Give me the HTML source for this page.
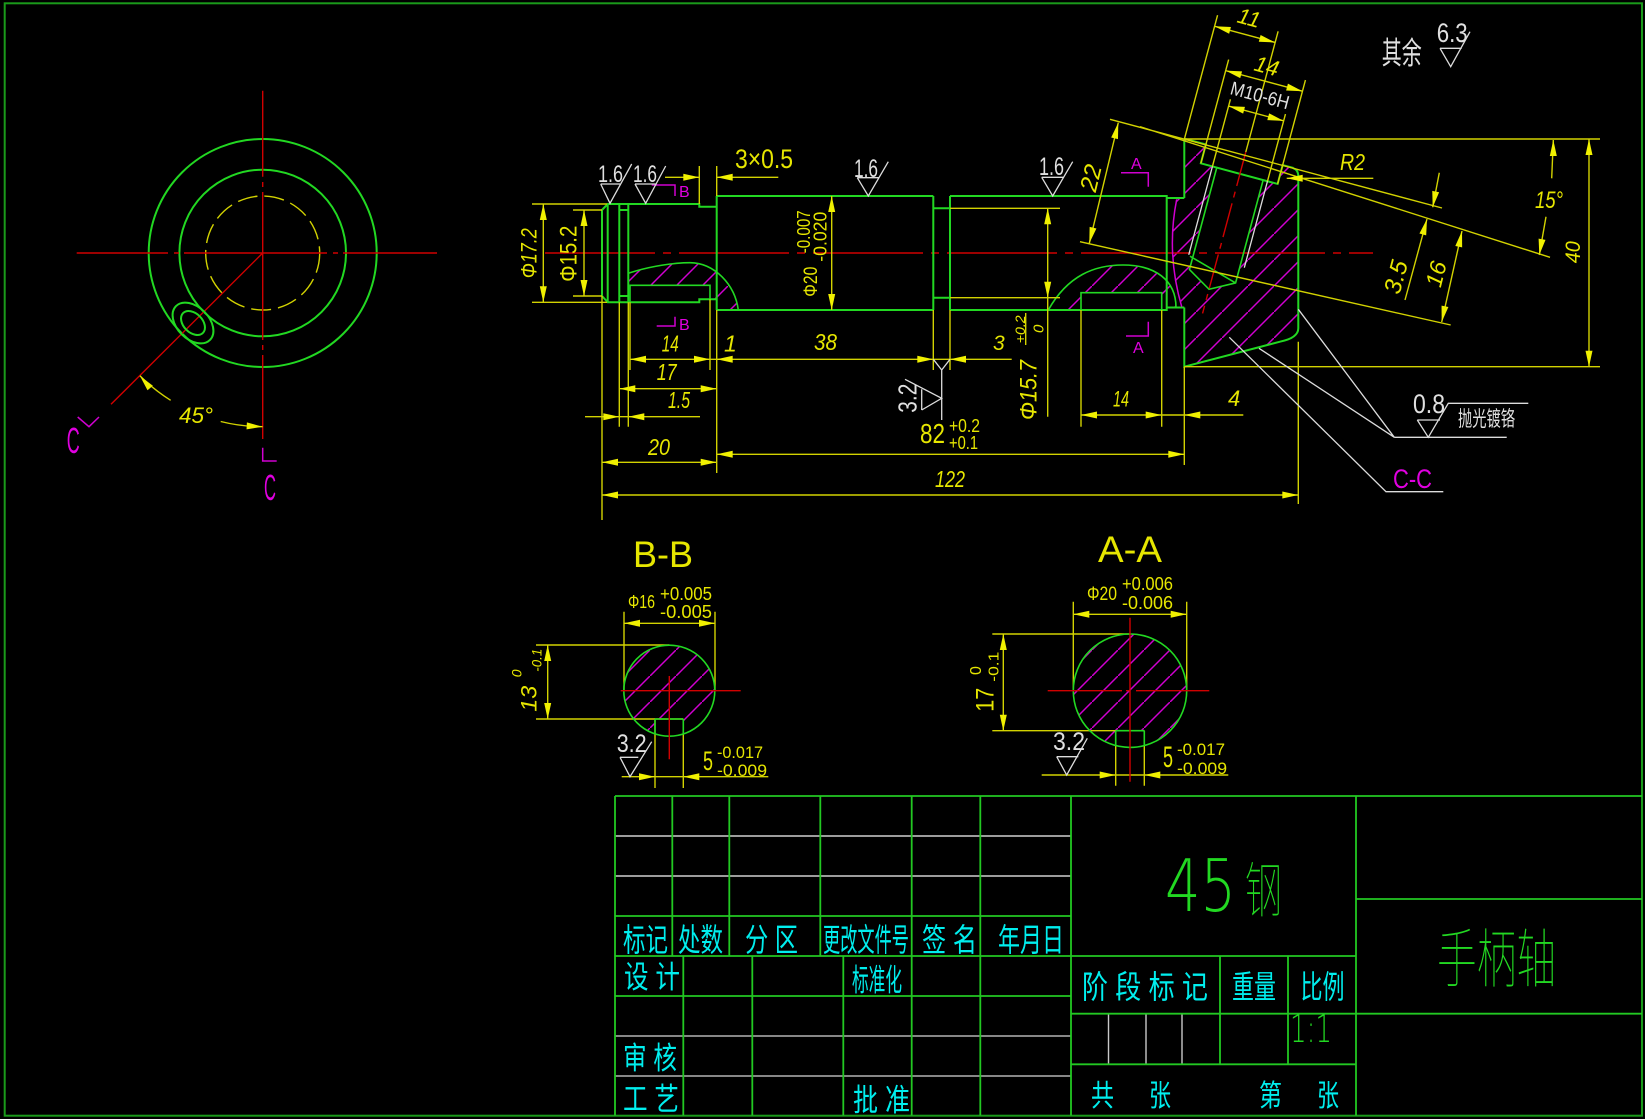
<!DOCTYPE html>
<html><head><meta charset="utf-8"><style>
html,body{margin:0;padding:0;background:#000}
svg{display:block}
.g{stroke:#22d822;stroke-width:2;fill:none}
.gt{stroke:#22d822;stroke-width:1.6;fill:none}
.y{stroke:#d2d200;stroke-width:1.4;fill:none}
.r{stroke:#d00000;stroke-width:1.4;fill:none}
.m{stroke:#d000d0;stroke-width:1.5;fill:none}
.w{stroke:#dcdcdc;stroke-width:1.3;fill:none}
text{font-family:'Liberation Sans','Noto Sans CJK SC',sans-serif}
.ty{fill:#e6e600}.tw{fill:#e0e0e0}.tm{fill:#e000e0}.tc{fill:#00eeee}.tg{fill:#22d822}
.i{font-style:italic}
.thin{font-family:'DejaVu Sans','Noto Sans CJK SC',sans-serif;font-weight:200}
.thincjk{font-family:'Noto Sans CJK SC',sans-serif;font-weight:100}
</style></head><body>
<svg xmlns="http://www.w3.org/2000/svg" width="1645" height="1119" viewBox="0 0 1645 1119">
<defs>
<path id="ah" d="M0,0 L-16,-3.5 L-16,3.5 Z" fill="#f0f000"/>
<pattern id="h" patternUnits="userSpaceOnUse" width="26" height="26"><path d="M-1,27 L27,-1" stroke="#d000d0" stroke-width="1.5"/></pattern>
</defs>
<rect width="1645" height="1119" fill="#000"/>
<rect x="4.7" y="3.3" width="1637.3" height="1112.4" fill="none" stroke="#1a9a1a" stroke-width="2"/>

<!-- LEFT END VIEW -->
<circle cx="262.7" cy="253" r="114" class="g"/>
<circle cx="262.7" cy="253" r="83.3" class="g"/>
<circle cx="262.7" cy="253" r="57" class="y" stroke-dasharray="20 7"/>
<path class="r" d="M76.7,253H168 M174,253H179 M184,253H327 M333,253H338 M343,253H437 M262.7,90.7V176.7 M262.7,182V187 M262.7,192V340 M262.7,345V350 M262.7,355V439 M262.7,253L111,404.3"/>
<g transform="translate(193,323) rotate(45)"><ellipse rx="24" ry="16" class="g"/><ellipse rx="14" ry="9.5" class="g"/></g>
<path class="y" d="M139.9,375.8 A173.7,173.7 0 0 0 170.65,400.3 M220.7,421.5 A173.7,173.7 0 0 0 262.7,426.7"/>
<use href="#ah" transform="translate(262.7,426.7) rotate(3)"/>
<use href="#ah" transform="translate(139.9,375.8) rotate(-130)"/>
<text class="ty i" x="179" y="423" font-size="22" textLength="34" lengthAdjust="spacingAndGlyphs">45°</text>
<path class="m" d="M77.7,417 L89,426.7 L99,417 M262.7,447.7 V461 H276.7"/>
<text class="tm" x="66.7" y="453" font-size="36" textLength="13" lengthAdjust="spacingAndGlyphs">C</text>
<text class="tm" x="264" y="500" font-size="36" textLength="12" lengthAdjust="spacingAndGlyphs">C</text>

<!-- HATCH REGIONS MAIN -->
<path fill="url(#h)" d="M1176.7,199 Q1166,253 1181.7,307.5 L1184.3,307.5 L1184.3,366.7 L1280,341.7 Q1298.3,338 1298.3,328.3 V176.7 Q1298.3,169.5 1293.3,168.3 L1184.3,139 V199 Z"/>
<g transform="translate(1245,155) rotate(15)"><path fill="#000" d="M-40.5,0 V19.5 H-24 V125 L0,139 L24,126 V19.5 H39 V0 Z"/></g>
<path fill="url(#h)" d="M628.3,273.3 C650,266 675,262.7 690,262.7 C715,263 735,285 738.3,310 L716.7,310 L716.7,299.3 L710,299.3 L710,285.3 L628.3,285.3 Z"/>
<path fill="url(#h)" d="M1048.3,310 C1068,275 1095,265 1123,265 C1155,265 1176,280 1176,307.5 L1166.7,307.5 L1166.7,310 L1161.7,310 L1161.7,292.7 L1081,292.7 L1081,310 Z"/>

<!-- MAIN CENTERLINE -->
<path class="r" d="M545,253H1373" stroke-dasharray="110 8 8 8"/>

<!-- MAIN GREEN OUTLINE -->
<path class="g" d="M602,210 L607.7,204 H628.3 M607.7,204 V302.3 M602,210 V296 L607.7,302.3 H628.3 M619.3,204 V302.3 M619.3,210 H628.3 M619.3,296 H628.3 M628.3,204 V302.3 M628.3,204 H699.3 V206.7 H716.7 M628.3,302.3 H699.3 V299.3 H716.7 M716.7,196 V310 M716.7,196 H933.3 M716.7,310 H933.3 M933.3,196 V310 M950,196 V310 M933.3,208.3 H950 M933.3,297.7 H950 M950,196 H1166.7 V310 H950 M1166.7,198 H1184.3 M1166.7,307.5 H1184.3"/>
<path class="gt" d="M630,302.3 V285.3 H710 V299.3 M1081,310 V292.7 H1161.7 V310"/>
<path class="gt" d="M628.3,273.3 C650,266 675,262.7 690,262.7 C715,263 735,285 738.3,310 M1048.3,310 C1068,275 1095,265 1123,265 C1155,265 1176,280 1176,307.5"/>
<path class="g" d="M1184.3,198 V139 M1184.3,307.5 V366.7 L1280,341.7 Q1298.3,338 1298.3,328.3 V176.7 Q1298.3,169.5 1293.3,168.3"/>
<g transform="translate(1245,155) rotate(15)">
<path class="g" d="M-62.7,0 H-40.5 V19.5 H39 V0 H50.2"/>
<path class="gt" d="M-24,19.5 V125 L0,139 L24,126 V19.5 M-27,112 L24,126"/>
<path class="w" d="M-28.5,19.5 V111 M28.5,19.5 V109"/>
<path class="r" d="M0,-3 V164" stroke-dasharray="35 6 6 6"/>
<path class="y" d="M-62.7,0V-128 M0,-3V-128 M-40.5,19.5V-88 M39,19.5V-88 M-28.5,19.5V-50 M28.5,19.5V-50 M-63,-116.5H0 M-40.5,-76.5H39 M-28.5,-43H28.5"/>
<use href="#ah" transform="translate(-62.7,-116.5) rotate(180)"/>
<use href="#ah" transform="translate(0,-116.5)"/>
<use href="#ah" transform="translate(-40.5,-76.5) rotate(180)"/>
<use href="#ah" transform="translate(39,-76.5)"/>
<use href="#ah" transform="translate(-28.5,-43) rotate(180)"/>
<use href="#ah" transform="translate(28.5,-43)"/>
<text class="ty i" x="-31.5" y="-126" font-size="22" text-anchor="middle">11</text>
<text class="ty i" x="-2" y="-84" font-size="22" text-anchor="middle">14</text>
<text class="tw" x="-31" y="-55" font-size="19" textLength="60" lengthAdjust="spacingAndGlyphs">M10-6H</text>
</g>

<!-- MAGENTA -->
<path class="m" d="M651.7,185H675V196 M656.7,326H675V316.7 M1121,172.7H1148.3V186.7 M1126,336H1148.3V321.7 M1176.7,199.3Q1166,253 1181.7,306.7"/>
<text class="tm" x="679" y="197" font-size="16">B</text>
<text class="tm" x="679" y="330" font-size="16">B</text>
<text class="tm" x="1131" y="169" font-size="16">A</text>
<text class="tm" x="1133" y="353" font-size="16">A</text>

<!-- YELLOW DIMS MAIN -->
<path class="y" d="M532,204H607 M532,302.3H607 M543.3,204V302.3 M573,210H602 M573,296H602 M584,210V296 M699.3,166V204 M716.7,166V196 M665,177.3H699.3 M716.7,177.3H778.3 M831.7,196V310 M602,296V520 M619.3,302.3V426.7 M628.3,302.3V426.7 M630,302.3V370 M710,299.3V370 M716.7,310V473 M933.3,310V370 M950,310V370 M630,359.3H1011.7 M619.3,388.7H716.7 M585,416.7H700 M602,462.3H716.7 M716.7,454.3H1184.3 M602,495H1298.3 M950,208.3H1060 M950,297.7H1060 M1047.7,208.3V416.7 M1081,310V426.7 M1161.7,310V426.7 M1081,415H1243.3 M1184.3,366.7V465 M1298.3,341.7V504 M1184.3,139H1600 M1184.3,366.7H1600 M1589,139V366.7 M1553.3,140L1551.7,178.3 M1546,216.7L1539.3,255 M1110,119.3L1442,208 M1140,126.7L1550,257.3 M1080,241.7L1450.7,325 M1118.3,122.7L1089.3,243.3 M1286.7,178.3H1373.3 M1439.3,172.7L1432.7,207.3 M1405,300L1427,219 M1462,231L1441.7,322 M1025.7,313V345"/>
<use href="#ah" transform="translate(543.3,204) rotate(-90)"/>
<use href="#ah" transform="translate(543.3,302.3) rotate(90)"/>
<use href="#ah" transform="translate(584,210) rotate(-90)"/>
<use href="#ah" transform="translate(584,296) rotate(90)"/>
<use href="#ah" transform="translate(699.3,177.3)"/>
<use href="#ah" transform="translate(716.7,177.3) rotate(180)"/>
<use href="#ah" transform="translate(831.7,196) rotate(-90)"/>
<use href="#ah" transform="translate(831.7,310) rotate(90)"/>
<use href="#ah" transform="translate(630,359.3) rotate(180)"/>
<use href="#ah" transform="translate(710,359.3)"/>
<use href="#ah" transform="translate(716.7,359.3) rotate(180)"/>
<use href="#ah" transform="translate(933.3,359.3)"/>
<use href="#ah" transform="translate(950,359.3) rotate(180)"/>
<use href="#ah" transform="translate(619.3,388.7) rotate(180)"/>
<use href="#ah" transform="translate(716.7,388.7)"/>
<use href="#ah" transform="translate(619.3,416.7)"/>
<use href="#ah" transform="translate(628.3,416.7) rotate(180)"/>
<use href="#ah" transform="translate(602,462.3) rotate(180)"/>
<use href="#ah" transform="translate(716.7,462.3)"/>
<use href="#ah" transform="translate(716.7,454.3) rotate(180)"/>
<use href="#ah" transform="translate(1184.3,454.3)"/>
<use href="#ah" transform="translate(602,495) rotate(180)"/>
<use href="#ah" transform="translate(1298.3,495)"/>
<use href="#ah" transform="translate(1047.7,208.3) rotate(-90)"/>
<use href="#ah" transform="translate(1047.7,297.7) rotate(90)"/>
<use href="#ah" transform="translate(1081,415) rotate(180)"/>
<use href="#ah" transform="translate(1161.7,415)"/>
<use href="#ah" transform="translate(1184.3,415) rotate(180)"/>
<use href="#ah" transform="translate(1589,139) rotate(-90)"/>
<use href="#ah" transform="translate(1589,366.7) rotate(90)"/>
<use href="#ah" transform="translate(1553.3,140) rotate(-90)"/>
<use href="#ah" transform="translate(1539.3,255) rotate(99.9)"/>
<use href="#ah" transform="translate(1118.3,122.7) rotate(-76.5)"/>
<use href="#ah" transform="translate(1089.3,243.3) rotate(103.5)"/>
<use href="#ah" transform="translate(1286.7,178.3) rotate(180)"/>
<use href="#ah" transform="translate(1432.7,207.3) rotate(100.8)"/>
<use href="#ah" transform="translate(1427,219) rotate(-74.8)"/>
<use href="#ah" transform="translate(1462,231) rotate(-78.2)"/>
<use href="#ah" transform="translate(1441.7,322) rotate(101.8)"/>

<!-- WHITE SYMBOLS MAIN -->
<path class="w" d="M600.7,184H620 M600.7,184L610,203.3L631.7,164 M635,184H656.7 M635,184L645.7,203.3L665.7,166 M857.3,177.7H879.3 M857.3,177.7L868.3,196L888.3,161.7 M1041.7,177.3H1063.3 M1041.7,177.3L1052.7,196L1072.7,161.7 M1440,48.3H1461.7 M1440,48.3L1450.7,66.7L1470,31.7 M1417.3,420H1440 M1417.3,420L1428.3,437.3L1448.3,403.3H1528.3 M921.7,410V389.3 M921.7,410L941.7,398.3L905,379.3 M933.3,359.3L941.7,370L950,359.3 M941.7,370V420 M1298.3,309.3L1394.3,437.3L1259,348.3 M1394.3,437.3H1506.7 M1229.3,337.3L1386,491.7H1443.3"/>

<!-- MAIN TEXTS -->
<text class="ty i" transform="translate(536.5,278.3) rotate(-90)" font-size="22" textLength="50" lengthAdjust="spacingAndGlyphs">Φ17.2</text>
<text class="ty" transform="translate(576.5,281.7) rotate(-90)" font-size="24" textLength="56" lengthAdjust="spacingAndGlyphs">Φ15.2</text>
<text class="tw" x="598" y="182" font-size="24" textLength="25" lengthAdjust="spacingAndGlyphs">1.6</text>
<text class="tw" x="633" y="182" font-size="24" textLength="24" lengthAdjust="spacingAndGlyphs">1.6</text>
<text class="ty" x="735" y="168" font-size="27" textLength="58" lengthAdjust="spacingAndGlyphs">3×0.5</text>
<text class="tw" x="854" y="177" font-size="25" textLength="24" lengthAdjust="spacingAndGlyphs">1.6</text>
<text class="tw" x="1039" y="175" font-size="25" textLength="25" lengthAdjust="spacingAndGlyphs">1.6</text>
<text class="ty" transform="translate(817,296.7) rotate(-90)" font-size="19" textLength="30" lengthAdjust="spacingAndGlyphs">Φ20</text>
<text class="ty" transform="translate(810,253.3) rotate(-90)" font-size="18" textLength="43" lengthAdjust="spacingAndGlyphs">-0.007</text>
<text class="ty" transform="translate(826.7,261.7) rotate(-90)" font-size="18" textLength="50" lengthAdjust="spacingAndGlyphs">-0.020</text>
<text class="ty i" x="661.7" y="351.7" font-size="23" textLength="17" lengthAdjust="spacingAndGlyphs">14</text>
<text class="ty i" x="724" y="351.7" font-size="23">1</text>
<text class="ty i" x="814" y="350" font-size="23" textLength="23" lengthAdjust="spacingAndGlyphs">38</text>
<text class="ty i" x="656.7" y="380" font-size="23" textLength="20" lengthAdjust="spacingAndGlyphs">17</text>
<text class="ty i" x="668" y="408" font-size="23" textLength="22" lengthAdjust="spacingAndGlyphs">1.5</text>
<text class="ty i" x="648" y="455" font-size="23" textLength="22" lengthAdjust="spacingAndGlyphs">20</text>
<text class="ty" x="920" y="443" font-size="28" textLength="25" lengthAdjust="spacingAndGlyphs">82</text>
<text class="ty" x="949" y="432" font-size="18" textLength="31" lengthAdjust="spacingAndGlyphs">+0.2</text>
<text class="ty" x="949" y="449" font-size="18" textLength="29" lengthAdjust="spacingAndGlyphs">+0.1</text>
<text class="ty i" x="935" y="487" font-size="23" textLength="30" lengthAdjust="spacingAndGlyphs">122</text>
<text class="ty i" x="993" y="350" font-size="21">3</text>
<text class="ty i" transform="translate(1025,343.3) rotate(-90)" font-size="14" textLength="28" lengthAdjust="spacingAndGlyphs">+0.2</text>
<text class="ty i" transform="translate(1043.3,333) rotate(-90)" font-size="15">0</text>
<text class="ty i" transform="translate(1036.7,420) rotate(-90)" font-size="24" textLength="60" lengthAdjust="spacingAndGlyphs">Φ15.7</text>
<text class="tw" transform="translate(916.7,412.7) rotate(-90)" font-size="26" textLength="29" lengthAdjust="spacingAndGlyphs">3.2</text>
<text class="ty i" x="1113" y="406.7" font-size="22" textLength="16" lengthAdjust="spacingAndGlyphs">14</text>
<text class="ty i" x="1228" y="406" font-size="22">4</text>
<text class="ty i" transform="translate(1091,178) rotate(-76.5)" x="0" y="8" font-size="24" text-anchor="middle">22</text>
<text class="ty i" x="1340" y="170" font-size="23" textLength="25" lengthAdjust="spacingAndGlyphs">R2</text>
<text class="ty i" transform="translate(1580,263.3) rotate(-90)" font-size="21" textLength="22" lengthAdjust="spacingAndGlyphs">40</text>
<text class="ty i" x="1535" y="208" font-size="24" textLength="28" lengthAdjust="spacingAndGlyphs">15°</text>
<text class="ty i" transform="translate(1396,277) rotate(-75)" x="0" y="8" font-size="24" text-anchor="middle">3.5</text>
<text class="ty i" transform="translate(1436,274) rotate(-76)" x="0" y="8" font-size="23" text-anchor="middle">16</text>
<text class="tw" x="1381.7" y="64" font-size="31" textLength="40" lengthAdjust="spacingAndGlyphs">其余</text>
<text class="tw" x="1436.7" y="42" font-size="27" textLength="31" lengthAdjust="spacingAndGlyphs">6.3</text>
<text class="tw" x="1413" y="413" font-size="27" textLength="32" lengthAdjust="spacingAndGlyphs">0.8</text>
<text class="tw" x="1458" y="426" font-size="21" textLength="57" lengthAdjust="spacingAndGlyphs">抛光镀铬</text>
<text class="tm" x="1393" y="488" font-size="27" textLength="39" lengthAdjust="spacingAndGlyphs">C-C</text>

<!-- B-B SECTION -->
<text class="ty" x="633" y="567" font-size="37" textLength="60" lengthAdjust="spacingAndGlyphs">B-B</text>
<circle cx="669.3" cy="690.7" r="45.5" fill="url(#h)"/>
<rect x="655" y="719" width="28.3" height="18" fill="#000"/>
<path class="y" d="M624,611.7V690.7 M715,611.7V690.7 M624,623.3H715 M536,645H669.3 M536,719H683.3 M547.7,645V719 M655,719V788 M683.3,719V788 M621.7,776.7H768.3"/>
<circle cx="669.3" cy="690.7" r="45.5" class="gt"/>
<path class="gt" d="M655,719H683.3 M655,719V734 M683.3,719V734"/>
<path class="r" d="M620.7,690.7H740.7 M669.3,676V759.3"/>
<use href="#ah" transform="translate(624,623.3) rotate(180)"/>
<use href="#ah" transform="translate(715,623.3)"/>
<use href="#ah" transform="translate(547.7,645) rotate(-90)"/>
<use href="#ah" transform="translate(547.7,719) rotate(90)"/>
<use href="#ah" transform="translate(655,776.7)"/>
<use href="#ah" transform="translate(683.3,776.7) rotate(180)"/>
<path class="w" d="M620,757.3H638.3 M620,757.3L630,776.7L651.7,741.7"/>
<text class="ty" x="628" y="608" font-size="18" textLength="27" lengthAdjust="spacingAndGlyphs">Φ16</text>
<text class="ty" x="660" y="600" font-size="18" textLength="52" lengthAdjust="spacingAndGlyphs">+0.005</text>
<text class="ty" x="660" y="618" font-size="18" textLength="52" lengthAdjust="spacingAndGlyphs">-0.005</text>
<text class="ty i" transform="translate(536.7,711.7) rotate(-90)" font-size="22" textLength="26" lengthAdjust="spacingAndGlyphs">13</text>
<text class="ty i" transform="translate(521.7,677.3) rotate(-90)" font-size="14">0</text>
<text class="ty i" transform="translate(541.7,671.7) rotate(-90)" font-size="14" textLength="23" lengthAdjust="spacingAndGlyphs">-0.1</text>
<text class="tw" x="616.7" y="752" font-size="25" textLength="30" lengthAdjust="spacingAndGlyphs">3.2</text>
<text class="ty" x="703" y="770" font-size="27" textLength="10" lengthAdjust="spacingAndGlyphs">5</text>
<text class="ty" x="717" y="758" font-size="17" textLength="46" lengthAdjust="spacingAndGlyphs">-0.017</text>
<text class="ty" x="717" y="776" font-size="17" textLength="50" lengthAdjust="spacingAndGlyphs">-0.009</text>

<!-- A-A SECTION -->
<text class="ty" x="1098" y="562" font-size="37" textLength="64" lengthAdjust="spacingAndGlyphs">A-A</text>
<circle cx="1130" cy="690.7" r="56.7" fill="url(#h)"/>
<rect x="1115.7" y="730.7" width="28.6" height="18" fill="#000"/>
<path class="y" d="M1073.3,601.7V690.7 M1186.7,601.7V690.7 M1073.3,614.3H1186.7 M992.3,634H1130 M992.3,730.7H1144.3 M1003.3,634V730.7 M1115.7,730.7V785.7 M1144.3,730.7V785.7 M1041.7,775H1228.3"/>
<circle cx="1130" cy="690.7" r="56.7" class="gt"/>
<path class="gt" d="M1115.7,730.7H1144.3 M1115.7,730.7V745.6 M1144.3,730.7V745.6"/>
<path class="r" d="M1047.7,690.7H1122 M1126,690.7H1130 M1136,690.7H1209.3 M1130,617.7V781.7"/>
<use href="#ah" transform="translate(1073.3,614.3) rotate(180)"/>
<use href="#ah" transform="translate(1186.7,614.3)"/>
<use href="#ah" transform="translate(1003.3,634) rotate(-90)"/>
<use href="#ah" transform="translate(1003.3,730.7) rotate(90)"/>
<use href="#ah" transform="translate(1115.7,775)"/>
<use href="#ah" transform="translate(1144.3,775) rotate(180)"/>
<path class="w" d="M1056.7,756.7H1078.3 M1056.7,756.7L1066.7,775L1087.3,738.3"/>
<text class="ty" x="1087" y="600" font-size="19" textLength="30" lengthAdjust="spacingAndGlyphs">Φ20</text>
<text class="ty" x="1122" y="590" font-size="18" textLength="51" lengthAdjust="spacingAndGlyphs">+0.006</text>
<text class="ty" x="1122" y="609" font-size="18" textLength="51" lengthAdjust="spacingAndGlyphs">-0.006</text>
<text class="ty" transform="translate(993.3,711.7) rotate(-90)" font-size="25" textLength="24" lengthAdjust="spacingAndGlyphs">17</text>
<text class="ty" transform="translate(981,675) rotate(-90)" font-size="16">0</text>
<text class="ty" transform="translate(998.3,681.7) rotate(-90)" font-size="15" textLength="30" lengthAdjust="spacingAndGlyphs">-0.1</text>
<text class="tw" x="1053" y="750" font-size="25" textLength="32" lengthAdjust="spacingAndGlyphs">3.2</text>
<text class="ty" x="1163" y="767" font-size="30" textLength="10" lengthAdjust="spacingAndGlyphs">5</text>
<text class="ty" x="1177" y="755" font-size="17" textLength="48" lengthAdjust="spacingAndGlyphs">-0.017</text>
<text class="ty" x="1177" y="774" font-size="17" textLength="50" lengthAdjust="spacingAndGlyphs">-0.009</text>

<!-- TITLE BLOCK -->
<path stroke="#cfcfcf" stroke-width="1.5" fill="none" d="M615,836H1071 M615,876H1071"/>
<path stroke="#9a9a9a" stroke-width="1.8" fill="none" d="M615,1036H1071 M615,1076H1071"/>
<path stroke="#c8c8c8" stroke-width="1.4" fill="none" d="M1108.5,1013.7V1064.3 M1146,1013.7V1064.3 M1182,1013.7V1064.3"/>
<path stroke="#22c822" stroke-width="1.8" fill="none" d="M615,796H1642 M615,796V1115.5 M615,916H1071 M615,956H1071 M615,996H1071 M672.3,796V956 M729.3,796V956 M820.3,796V956 M911.7,796V1115.5 M980.3,796V1115.5 M683.3,956V1115.5 M752.3,956V1115.5 M843.3,956V1115.5 M1071,796V1115.5 M1356,796V1115.5 M1071,956H1356 M1071,1013.7H1642 M1071,1064.3H1356 M1356,899H1642 M1220,956V1064.3 M1288,956V1064.3"/>
<text class="tc" x="623" y="951" font-size="32" textLength="45" lengthAdjust="spacingAndGlyphs">标记</text>
<text class="tc" x="678" y="951" font-size="32" textLength="45" lengthAdjust="spacingAndGlyphs">处数</text>
<text class="tc" x="745" y="951" font-size="32" textLength="53" lengthAdjust="spacingAndGlyphs">分 区</text>
<text class="tc" x="823" y="951" font-size="32" textLength="86" lengthAdjust="spacingAndGlyphs">更改文件号</text>
<text class="tc" x="922" y="951" font-size="32" textLength="55" lengthAdjust="spacingAndGlyphs">签 名</text>
<text class="tc" x="998" y="951" font-size="32" textLength="66" lengthAdjust="spacingAndGlyphs">年月日</text>
<text class="tc" x="624" y="988" font-size="31" textLength="56" lengthAdjust="spacingAndGlyphs">设 计</text>
<text class="tc" x="852" y="991" font-size="31" textLength="50" lengthAdjust="spacingAndGlyphs">标准化</text>
<text class="tc" x="623" y="1069" font-size="31" textLength="54" lengthAdjust="spacingAndGlyphs">审 核</text>
<text class="tc" x="623" y="1110" font-size="31" textLength="56" lengthAdjust="spacingAndGlyphs">工 艺</text>
<text class="tc" x="853" y="1111" font-size="31" textLength="57" lengthAdjust="spacingAndGlyphs">批 准</text>
<text class="tc" x="1082" y="998" font-size="32" textLength="126" lengthAdjust="spacingAndGlyphs">阶 段 标 记</text>
<text class="tc" x="1232" y="998" font-size="32" textLength="44" lengthAdjust="spacingAndGlyphs">重量</text>
<text class="tc" x="1300.5" y="998" font-size="32" textLength="44" lengthAdjust="spacingAndGlyphs">比例</text>
<text class="tg thin" x="1290" y="1042" font-size="38" textLength="42" lengthAdjust="spacingAndGlyphs">1:1</text>
<text class="tc" x="1091" y="1106" font-size="30" textLength="23" lengthAdjust="spacingAndGlyphs">共</text>
<text class="tc" x="1149" y="1106" font-size="30" textLength="22" lengthAdjust="spacingAndGlyphs">张</text>
<text class="tc" x="1259" y="1106" font-size="30" textLength="23" lengthAdjust="spacingAndGlyphs">第</text>
<text class="tc" x="1317" y="1106" font-size="30" textLength="22" lengthAdjust="spacingAndGlyphs">张</text>
<text class="tg thin" x="1165" y="911" font-size="72" textLength="71" lengthAdjust="spacingAndGlyphs">45</text>
<text class="tg thincjk" x="1245" y="912" font-size="60" textLength="37" lengthAdjust="spacingAndGlyphs">钢</text>
<text class="tg thincjk" x="1437" y="982" font-size="64" textLength="119" lengthAdjust="spacingAndGlyphs">手柄轴</text>
</svg>
</body></html>
